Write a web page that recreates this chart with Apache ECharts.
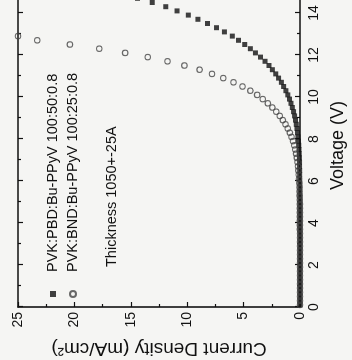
<!DOCTYPE html>
<html>
<head>
<meta charset="utf-8">
<script src="https://cdn.jsdelivr.net/npm/echarts@6/dist/echarts.min.js"></script>
<style>
  html, body { margin: 0; padding: 0; background: #f5f5f3; overflow: hidden; }
  #frame { position: relative; width: 352px; height: 360px; overflow: hidden; background: #f5f5f3; }
  /* the plot is laid out landscape and turned a quarter turn counter-clockwise */
  #chart { position: absolute; left: 0; top: 0; width: 360px; height: 352px;
           transform-origin: 0 0; transform: translateY(360px) rotate(-90deg); }
</style>
</head>
<body>
<div id="frame"><div id="chart"></div></div>
<script>
// Applied voltage (V) for each measured point
const voltage = [
  0.1, 0.3, 0.5, 0.7, 0.9, 1.1, 1.3, 1.5, 1.7, 1.9,
  2.1, 2.3, 2.5, 2.7, 2.9, 3.1, 3.3, 3.5, 3.7, 3.9,
  4.1, 4.3, 4.5, 4.7, 4.9, 5.1, 5.3, 5.5, 5.7, 5.9,
  6.1, 6.3, 6.5, 6.7, 6.9, 7.1, 7.3, 7.5, 7.7, 7.9,
  8.1, 8.3, 8.5, 8.7, 8.9, 9.1, 9.3, 9.5, 9.7, 9.9,
  10.1, 10.3, 10.5, 10.7, 10.9, 11.1, 11.3, 11.5, 11.7, 11.9,
  12.1, 12.3, 12.5, 12.7, 12.9, 13.1, 13.3, 13.5, 13.7, 13.9,
  14.1, 14.3, 14.5, 14.7
];

// Current density (mA/cm2), PVK:PBD:Bu-PPyV 100:50:0.8
const currentPBD = [
  0, 0, 0, 0, 0, 0, 0, 0, 0, 0,
  0, 0, 0, 0, 0, 0, 0, 0, 0.01, 0.01,
  0.01, 0.01, 0.01, 0.01, 0.01, 0.01, 0.02, 0.02, 0.02, 0.02,
  0.03, 0.03, 0.03, 0.04, 0.04, 0.05, 0.07, 0.09, 0.11, 0.14,
  0.18, 0.22, 0.27, 0.33, 0.4, 0.48, 0.57, 0.68, 0.8, 0.93,
  1.08, 1.25, 1.45, 1.65, 1.9, 2.15, 2.45, 2.75, 3.1, 3.5,
  3.95, 4.4, 4.9, 5.45, 6.0, 6.7, 7.4, 8.2, 9.05, 9.9,
  10.9, 11.9, 13.1, 14.4
];

// Current density (mA/cm2), PVK:BND:Bu-PPyV 100:25:0.8
const currentBND = [
  0, 0, 0, 0, 0, 0, 0, 0, 0, 0,
  0, 0, 0, 0, 0, 0, 0, 0, 0.01, 0.01,
  0.01, 0.01, 0.01, 0.01, 0.01, 0.02, 0.03, 0.04, 0.05, 0.07,
  0.09, 0.11, 0.14, 0.18, 0.22, 0.28, 0.34, 0.42, 0.51, 0.62,
  0.75, 0.9, 1.08, 1.28, 1.52, 1.8, 2.1, 2.45, 2.85, 3.3,
  3.8, 4.4, 5.1, 5.9, 6.8, 7.8, 8.9, 10.25, 11.75, 13.5,
  15.5, 17.8, 20.4, 23.3, 25.0
];

const seriesNames = ['PVK:PBD:Bu-PPyV 100:50:0.8', 'PVK:BND:Bu-PPyV 100:25:0.8'];
const noteText = 'Thickness 1050+-25A';

const FONT = '"Liberation Sans", Arial, Helvetica, sans-serif';
const INK = '#111';

const chart = echarts.init(document.getElementById('chart'), null, { renderer: 'canvas' });

const tickStyle = { color: INK, width: 1.2 };

chart.setOption({
  animation: false,
  backgroundColor: '#f5f5f3',
  grid: { left: 53, right: -8, top: 18, bottom: 52, containLabel: false, outerBoundsMode: 'none' },
  xAxis: [
    {
      type: 'value', min: 0, max: 15, interval: 2, position: 'bottom',
      name: 'Voltage (V)', nameLocation: 'middle', nameGap: 29,
      nameTextStyle: { fontFamily: FONT, fontSize: 18, color: INK, padding: [0, 0, 0, 8] },
      axisLine: { show: true, onZero: false, lineStyle: { color: INK, width: 1.6 } },
      axisTick: { show: true, inside: true, length: 5, lineStyle: tickStyle },
      minorTick: { show: true, splitNumber: 2, length: 3, lineStyle: tickStyle },
      splitLine: { show: false },
      axisLabel: { fontFamily: FONT, fontSize: 14, color: INK, margin: 7, showMaxLabel: false }
    },
    {
      type: 'value', min: 0, max: 15, interval: 2, position: 'top',
      axisLine: { show: true, onZero: false, lineStyle: { color: INK, width: 1.6 } },
      axisTick: { show: true, inside: true, length: 5, lineStyle: tickStyle },
      minorTick: { show: true, splitNumber: 2, length: 3, lineStyle: tickStyle },
      splitLine: { show: false },
      axisLabel: { show: false }
    }
  ],
  yAxis: [
    {
      type: 'value', min: 0, max: 25, interval: 5, position: 'left',
      name: 'Current Density (mA/cm²)', nameLocation: 'middle', nameRotate: 90, nameGap: 26,
      nameTextStyle: { fontFamily: FONT, fontSize: 19, color: INK },
      axisLine: { show: true, onZero: false, lineStyle: { color: INK, width: 1.6 } },
      axisTick: { show: true, inside: true, length: 5, lineStyle: tickStyle },
      minorTick: { show: true, splitNumber: 2, length: 3, lineStyle: tickStyle },
      splitLine: { show: false },
      axisLabel: { fontFamily: FONT, fontSize: 14, color: INK, margin: 5 }
    }
  ],
  legend: {
    orient: 'vertical', left: 57, top: 40,
    itemWidth: 6, itemHeight: 6, itemGap: 4,
    textStyle: { fontFamily: FONT, fontSize: 14.5, color: INK, lineHeight: 16, padding: [0, 0, 0, 14] },
    data: [
      { name: seriesNames[0], icon: 'rect' },
      { name: seriesNames[1], icon: 'circle' }
    ]
  },
  graphic: [
    {
      type: 'text', left: 93, top: 104,
      style: { text: noteText, font: '14.5px ' + FONT, fill: INK }
    }
  ],
  series: [
    {
      type: 'scatter', name: seriesNames[0],
      symbol: 'rect', symbolSize: 5,
      itemStyle: { color: INK },
      data: voltage.map((v, i) => [v, currentPBD[i]]),
      z: 2
    },
    {
      type: 'scatter', name: seriesNames[1],
      symbol: 'circle', symbolSize: 5.5,
      itemStyle: { color: 'rgba(0,0,0,0)', borderColor: '#444', borderWidth: 1.1 },
      data: currentBND.map((c, i) => [voltage[i], c]),
      z: 3
    }
  ]
});
</script>
</body>
</html>
